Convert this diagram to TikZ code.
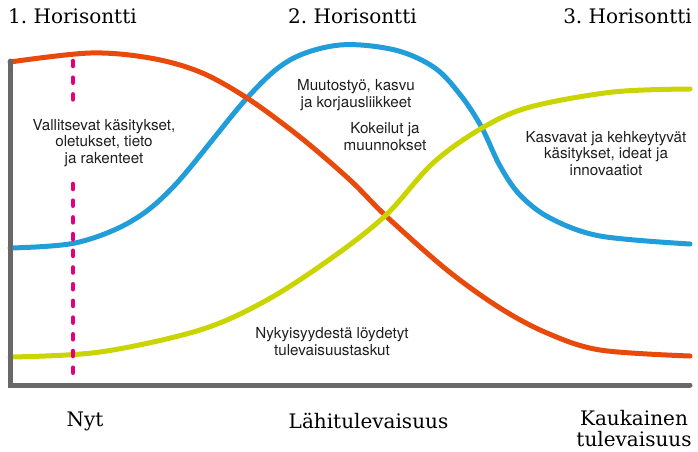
\documentclass[tikz,border=0pt]{standalone}
\usepackage{fontspec}
\setmainfont{TeX Gyre Heros}
\newfontfamily\slabfont{DejaVu Serif}
\usetikzlibrary{positioning}
\definecolor{hred}{RGB}{232,74,12}
\definecolor{hblue}{RGB}{33,157,218}
\definecolor{hyellow}{RGB}{202,212,0}
\definecolor{hmagenta}{RGB}{228,0,124}
\definecolor{haxis}{RGB}{104,104,104}
\definecolor{htext}{RGB}{30,30,30}
\tikzset{curve/.style={line width=5pt, line cap=round}}
\tikzset{nowline/.style={draw=hmagenta, line width=4.6pt, line cap=round, dash pattern=on 5pt off 11.7pt}}
\tikzset{axisline/.style={draw=haxis, line width=5pt, line cap=round, line join=miter}}
\tikzset{horizon/.style={font=\slabfont\fontsize{20}{24}\selectfont, inner sep=0, text=black}}
\tikzset{notetext/.style={font=\fontsize{15.2}{16.5}\selectfont, align=center, inner sep=0, text=htext}}

\begin{document}
\begin{tikzpicture}[x=1pt,y=-1pt]%[scale=0.8]
		\useasboundingbox (0,0) rectangle (698,451);
		\coordinate (top) at (10.5,61);
		\coordinate (origin) at (10.5,385);
		\coordinate (end) at (690,385);
		\coordinate (nowtop) at (73,61);
		\coordinate (nowgap1) at (73,100);
		\coordinate (nowgap2) at (73,184);
		\coordinate (nowbottom) at (73,384);
		
		% curves
		\draw[curve, hblue] plot[smooth, tension=0.55] coordinates {(10,248) (75,243) (130,222) (175,185) (247,98) (290,60) (340,45) (395,50) (435,68) (462,97) (482,128) (500,166) (520,195) (550,218) (600,236) (690,244)};
		\draw[curve, hred] plot[smooth, tension=0.55] coordinates {(10,62) (90,53) (150,58) (200,72) (247,98) (300,137) (350,180) (386,216) (447,270) (500,308) (547,333) (600,350) (690,356)};
		\draw[curve, hyellow] plot[smooth, tension=0.55] coordinates {(10,357) (100,352) (200,330) (267,300) (333,257) (386,215) (433,163) (482,128) (530,107) (613,92) (690,89)};
		
		% nyt, broken behind the text
		\draw[nowline] (nowtop) -- (nowgap1);
		\draw[nowline] (nowgap2) -- (nowbottom);
		
		% axes
		\draw[axisline] (top) -- (origin) -- (end);
		
		% horizons
		\node[horizon, anchor=base west] (h1) at (8,23) {1.\ Horisontti};
		\node[horizon, anchor=base west] (h2) at (288,23) {2.\ Horisontti};
		\node[horizon, anchor=base east] (h3) at (692,23) {3.\ Horisontti};
		
		% texts (base = last line)
		\node[notetext, anchor=base] (old) at (104,163) {Vallitsevat käsitykset,\\oletukset, tieto\\ja rakenteet};
		\node[notetext, anchor=base] (change) at (356,107) {Muutostyö, kasvu\\ja korjausliikkeet};
		\node[notetext, anchor=base] (trials) at (385,150) {Kokeilut ja\\muunnokset};
		\node[notetext, anchor=base] (grow) at (606,175) {Kasvavat ja kehkeytyvät\\käsitykset, ideat ja\\innovaatiot};
		\node[notetext, anchor=base] (pockets) at (332,355) {Nykyisyydestä löydetyt\\tulevaisuustaskut};
		
		\node[horizon, anchor=base] (now) at (85,426) {Nyt};
		\node[horizon, anchor=base] (near) at (368.5,428) {Lähitulevaisuus};
		\node[horizon, anchor=base, align=center, font=\slabfont\fontsize{20}{21}\selectfont] (far) at (634,446) {Kaukainen\\tulevaisuus};
	\end{tikzpicture}
\end{document}
